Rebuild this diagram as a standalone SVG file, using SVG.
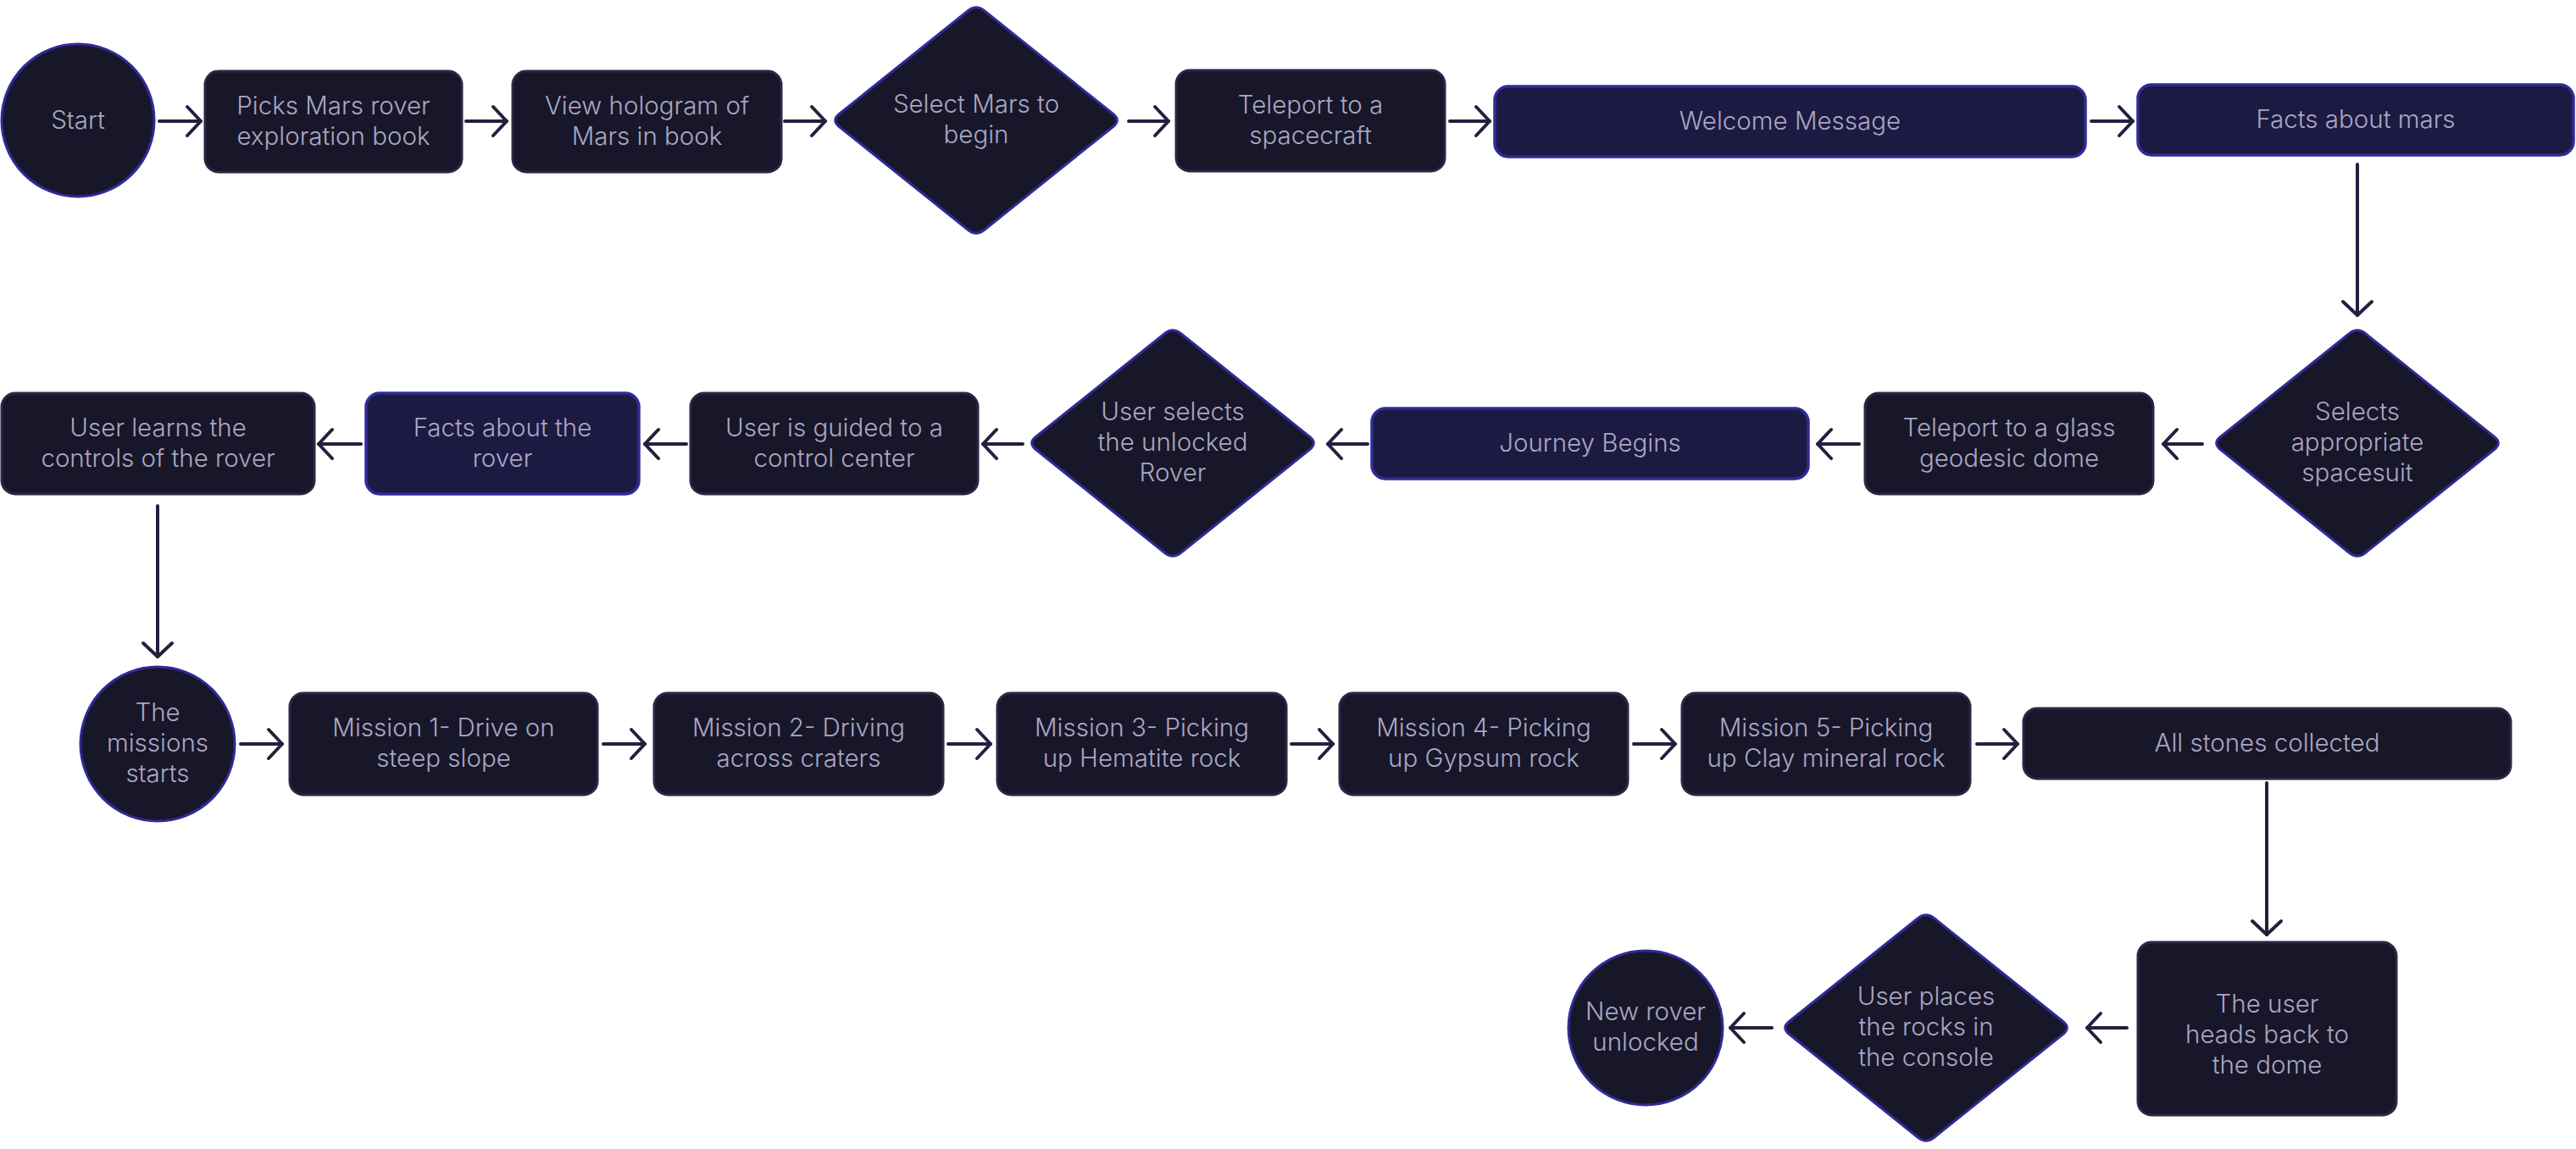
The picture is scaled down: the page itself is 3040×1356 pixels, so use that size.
<svg xmlns="http://www.w3.org/2000/svg" width="3040" height="1356" viewBox="0 0 3040 1356">
<style>
.n{fill:#181629;stroke:#2a2746;stroke-width:3}
.b{fill:#1c1a42;stroke:#302b98;stroke-width:3.5}
.c{fill:#181629;stroke:#302b98;stroke-width:3}
.t{font-family:Inter,"Noto Sans","Liberation Sans",sans-serif;font-size:29.5px;font-weight:300;fill:#aaa6c2;text-anchor:middle}
.e{fill:none;stroke:#23203f;stroke-width:4;stroke-linecap:round;marker-end:url(#ah)}
</style>
<defs>
<marker id="ah" markerUnits="userSpaceOnUse" markerWidth="40" markerHeight="40" viewBox="-20 -20 40 40" refX="0" refY="0" orient="auto">
<path d="M-16,-17 L0,0 L-16,17" fill="none" stroke="#23203f" stroke-width="4" stroke-linecap="round" stroke-linejoin="round"/>
</marker>
<path id="dia" d="M9.4,-129.5 L161.6,-7.5 Q171,0 161.6,7.5 L9.4,129.5 Q0,137 -9.4,129.5 L-161.6,7.5 Q-171,0 -161.6,-7.5 L-9.4,-129.5 Q0,-137 9.4,-129.5 Z"/>
</defs>
<rect width="3040" height="1356" fill="#ffffff"/>
<g id="connectors">
<path class="e" d="M188,143 H237"/>
<path class="e" d="M550,143 H598"/>
<path class="e" d="M926,143 H974"/>
<path class="e" d="M1332,143 H1379"/>
<path class="e" d="M1711,143 H1758"/>
<path class="e" d="M2468,143 H2517"/>
<path class="e" d="M2782,194 V372"/>
<path class="e" d="M2599,524 H2553"/>
<path class="e" d="M2194,524 H2145"/>
<path class="e" d="M1614,524 H1567"/>
<path class="e" d="M1207,524 H1160"/>
<path class="e" d="M810,524 H761"/>
<path class="e" d="M426,524 H376"/>
<path class="e" d="M186,597 V775"/>
<path class="e" d="M284,878 H333"/>
<path class="e" d="M712,878 H761"/>
<path class="e" d="M1119,878 H1169"/>
<path class="e" d="M1524,878 H1573"/>
<path class="e" d="M1928,878 H1977"/>
<path class="e" d="M2333,878 H2381"/>
<path class="e" d="M2675,924 V1103"/>
<path class="e" d="M2510,1213 H2463"/>
<path class="e" d="M2091,1213 H2042"/>
</g>
<g id="start"><circle class="c" cx="92" cy="142" r="90"/><text class="t" x="92" y="152">Start</text></g>
<g id="picks"><rect class="n" x="242" y="84" width="303" height="119" rx="16"/><text class="t" x="393.5" y="135">Picks Mars rover</text><text class="t" x="393.5" y="171">exploration book</text></g>
<g id="hologram"><rect class="n" x="605" y="84" width="317" height="119" rx="16"/><text class="t" x="763.5" y="135">View hologram of</text><text class="t" x="763.5" y="171">Mars in book</text></g>
<g id="selectmars"><use href="#dia" class="c" x="1152" y="142"/><text class="t" x="1152" y="133">Select Mars to</text><text class="t" x="1152" y="169">begin</text></g>
<g id="teleport1"><rect class="n" x="1388" y="83" width="317" height="119" rx="16"/><text class="t" x="1546.5" y="134">Teleport to a</text><text class="t" x="1546.5" y="170">spacecraft</text></g>
<g id="welcome"><rect class="b" x="1764" y="102" width="697" height="83" rx="16"/><text class="t" x="2112.5" y="153">Welcome Message</text></g>
<g id="factsmars"><rect class="b" x="2523" y="100" width="514" height="83" rx="16"/><text class="t" x="2780" y="151">Facts about mars</text></g>
<g id="spacesuit"><use href="#dia" class="c" x="2782" y="523"/><text class="t" x="2782" y="496">Selects</text><text class="t" x="2782" y="532">appropriate</text><text class="t" x="2782" y="568">spacesuit</text></g>
<g id="teleport2"><rect class="n" x="2201" y="464" width="340" height="119" rx="16"/><text class="t" x="2371" y="515">Teleport to a glass</text><text class="t" x="2371" y="551">geodesic dome</text></g>
<g id="journey"><rect class="b" x="1619" y="482" width="515" height="83" rx="16"/><text class="t" x="1876.5" y="533">Journey Begins</text></g>
<g id="selectrover"><use href="#dia" class="c" x="1384" y="523"/><text class="t" x="1384" y="496">User selects</text><text class="t" x="1384" y="532">the unlocked</text><text class="t" x="1384" y="568">Rover</text></g>
<g id="guided"><rect class="n" x="815" y="464" width="339" height="119" rx="16"/><text class="t" x="984.5" y="515">User is guided to a</text><text class="t" x="984.5" y="551">control center</text></g>
<g id="factsrover"><rect class="b" x="432" y="464" width="322" height="119" rx="16"/><text class="t" x="593" y="515">Facts about the</text><text class="t" x="593" y="551">rover</text></g>
<g id="learns"><rect class="n" x="2" y="464" width="369" height="119" rx="16"/><text class="t" x="186.5" y="515">User learns the</text><text class="t" x="186.5" y="551">controls of the rover</text></g>
<g id="missions"><circle class="c" cx="186" cy="878" r="91"/><text class="t" x="186" y="851">The</text><text class="t" x="186" y="887">missions</text><text class="t" x="186" y="923">starts</text></g>
<g id="m1"><rect class="n" x="342" y="818" width="363" height="120" rx="16"/><text class="t" x="523.5" y="869">Mission 1- Drive on</text><text class="t" x="523.5" y="905">steep slope</text></g>
<g id="m2"><rect class="n" x="772" y="818" width="341" height="120" rx="16"/><text class="t" x="942.5" y="869">Mission 2- Driving</text><text class="t" x="942.5" y="905">across craters</text></g>
<g id="m3"><rect class="n" x="1177" y="818" width="341" height="120" rx="16"/><text class="t" x="1347.5" y="869">Mission 3- Picking</text><text class="t" x="1347.5" y="905">up Hematite rock</text></g>
<g id="m4"><rect class="n" x="1581" y="818" width="340" height="120" rx="16"/><text class="t" x="1751" y="869">Mission 4- Picking</text><text class="t" x="1751" y="905">up Gypsum rock</text></g>
<g id="m5"><rect class="n" x="1985" y="818" width="340" height="120" rx="16"/><text class="t" x="2155" y="869">Mission 5- Picking</text><text class="t" x="2155" y="905">up Clay mineral rock</text></g>
<g id="stones"><rect class="n" x="2388" y="836" width="575" height="83" rx="16"/><text class="t" x="2675.5" y="887">All stones collected</text></g>
<g id="headsback"><rect class="n" x="2523" y="1112" width="305" height="204" rx="16"/><text class="t" x="2675.5" y="1195">The user</text><text class="t" x="2675.5" y="1231">heads back to</text><text class="t" x="2675.5" y="1267">the dome</text></g>
<g id="places"><use href="#dia" class="c" x="2273" y="1213"/><text class="t" x="2273" y="1186">User places</text><text class="t" x="2273" y="1222">the rocks in</text><text class="t" x="2273" y="1258">the console</text></g>
<g id="unlocked"><circle class="c" cx="1942" cy="1213" r="91"/><text class="t" x="1942" y="1204">New rover</text><text class="t" x="1942" y="1240">unlocked</text></g>
</svg>
